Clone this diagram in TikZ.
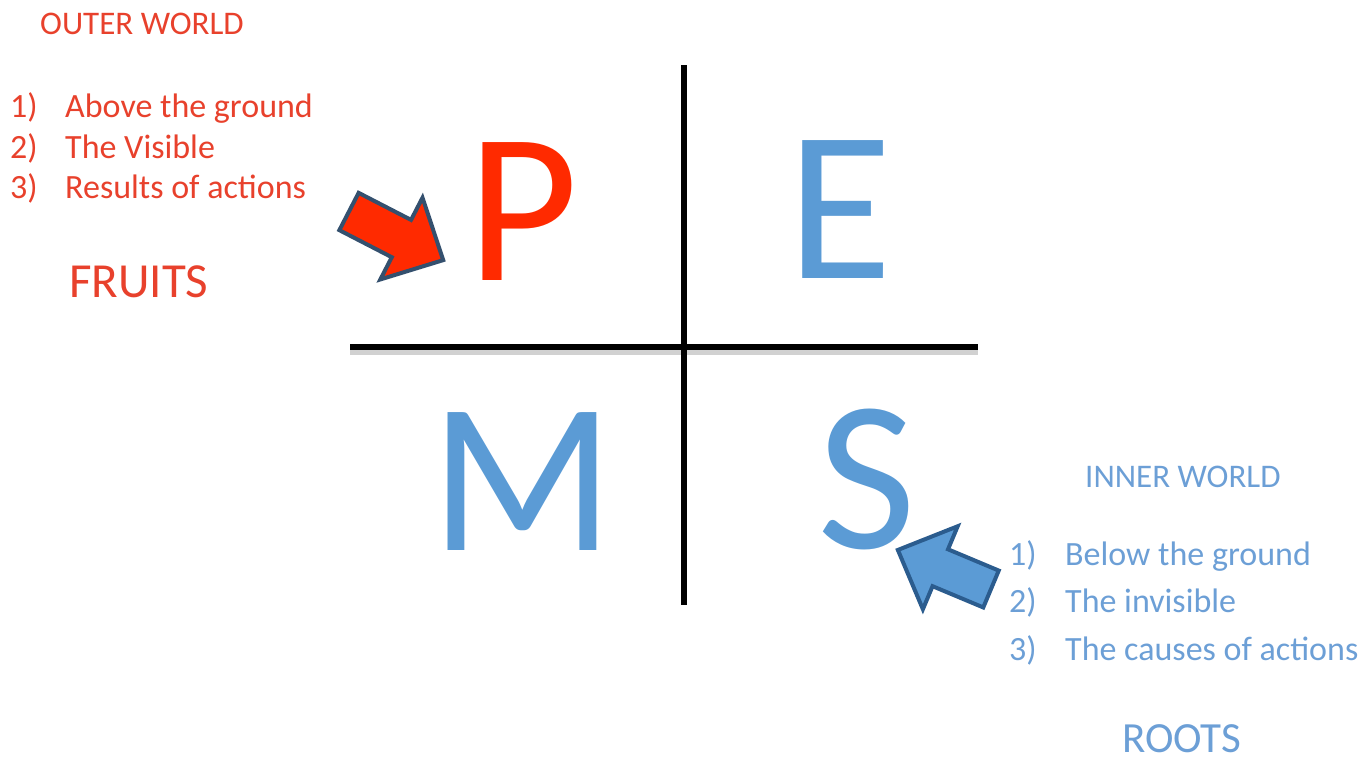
\documentclass[tikz,border=0pt]{standalone}
\usepackage{fontspec}
\setmainfont{Carlito}
\usepackage{tikz}
\usetikzlibrary{positioning, calc}
\definecolor{cRed}      {HTML}{FF2A00}
\definecolor{cRedText}  {HTML}{E8412C}
\definecolor{cBlue}     {HTML}{5B9BD5}
\definecolor{cBlueText} {HTML}{6C9FD6}
\definecolor{cEdge}     {HTML}{34506E}
\definecolor{cEdgeBlue} {HTML}{2B5C8E}
\tikzset{
  bigletter/.style={anchor=base, inner sep=0pt, font=\fontsize{215}{215}\selectfont},
  listtext/.style={anchor=base west, inner sep=0pt, font=\fontsize{34}{34}\selectfont},
  headtext/.style={anchor=base west, inner sep=0pt, font=\fontsize{33}{33}\selectfont},
  crossline/.style={line width=6pt},
}

\begin{document}
\begin{tikzpicture}[x=1pt, y=-1pt]
  \useasboundingbox (0,0) rectangle (1370,764);

  % the cross
  \coordinate (top) at (684,65);
  \coordinate (bot) at (684,605);
  \coordinate (lft) at (350,347);
  \coordinate (rgt) at (978,347);
  \draw[crossline, black!30, opacity=0.6] ($(lft)+(0,5)$) -- ($(rgt)+(0,5)$);
  \draw[crossline] (lft) -- (rgt);
  \draw[crossline] (top) -- (bot);

  % the four letters
  \node[bigletter, text=cRed]  (P) at (523,280) {P};
  \node[bigletter, text=cBlue] (E) at (840,278) {E};
  \node[bigletter, text=cBlue] (M) at (522,550) {M};
  \node[bigletter, text=cBlue] (S) at (867,548) {S};

  % outer world, top left
  \node[headtext, text=cRedText] (outer) at (40,34) {OUTER WORLD};
  \foreach \n/\txt/\yy in {1/Above the ground/117, 2/The Visible/158, 3/Results of actions/198}{
    \node[listtext, text=cRedText] (onum\n) at (10,\yy) {\n)};
    \node[listtext, text=cRedText] (oitem\n) at (65,\yy) {\txt};
  }
  \node[anchor=base west, inner sep=0pt, text=cRedText, font=\fontsize{49}{49}\selectfont]
        (fruits) at (69,297) {FRUITS};

  % inner world, bottom right
  \node[headtext, text=cBlueText] (inner) at (1085,487) {INNER WORLD};
  \foreach \n/\txt/\yy in {1/Below the ground/565, 2/The invisible/612, 3/The causes of actions/660}{
    \node[listtext, text=cBlueText] (inum\n) at (1009,\yy) {\n)};
    \node[listtext, text=cBlueText] (iitem\n) at (1065,\yy) {\txt};
  }
  \node[anchor=base west, inner sep=0pt, text=cBlueText, font=\fontsize{43}{43}\selectfont]
        (roots) at (1122,752) {ROOTS};

  % block arrows
  \begin{scope}[shift={(349,211.5)}, rotate=-27.3]
    \draw[fill=cRed, draw=cEdge, line width=4pt, line join=miter]
      (0,-21) -- (59,-21) -- (59,-46) -- (106,0) -- (59,46) -- (59,21) -- (0,21) -- cycle;
  \end{scope}
  \begin{scope}[shift={(991,589)}, rotate=157.25]
    \draw[fill=cBlue, draw=cEdgeBlue, line width=4pt, line join=miter]
      (0,-20) -- (55,-20) -- (55,-45) -- (101,0) -- (55,45) -- (55,20) -- (0,20) -- cycle;
  \end{scope}
\end{tikzpicture}
\end{document}
